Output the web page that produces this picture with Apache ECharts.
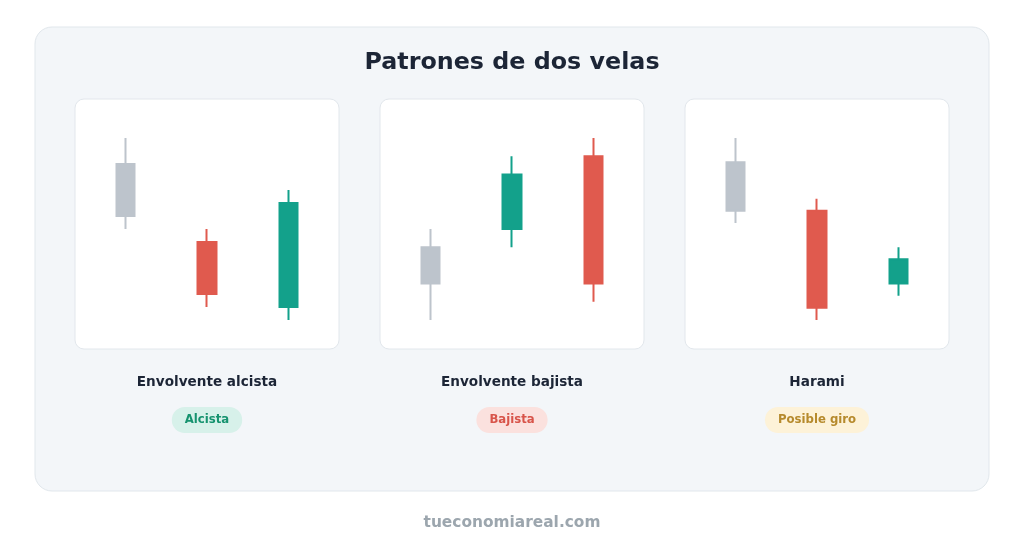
<!DOCTYPE html>
<html>
<head>
<meta charset="utf-8">
<script src="https://cdn.jsdelivr.net/npm/echarts@6/dist/echarts.min.js"></script>
<style>
  html, body { margin: 0; padding: 0; background: #ffffff; }
  #chart { width: 1024px; height: 553px; }
</style>
</head>
<body>
<div id="chart"></div>
<script>
// ---- Data ----
const chartTitle = 'Patrones de dos velas';
const footerText = 'tueconomiareal.com';
const categories = ['Vela 1', 'Vela 2', 'Vela 3'];
const patternNames = ['Envolvente alcista', 'Envolvente bajista', 'Harami'];
const pillLabels = ['Alcista', 'Bajista', 'Posible giro'];
// candle values: [open, close, low, high]
const alcistaCandles = [[12, 8, 7, 14], [6, 2, 1, 7], [1, 9, 0, 10]];
const bajistaCandles = [[2, 4, 0, 5], [5, 8, 4, 9], [9, 2, 1, 10]];
const haramiCandles = [[13, 9, 8, 15], [9, 1, 0, 10], [3, 5, 2, 6]];
// which candle in each pattern is the neutral (gray) context candle
const contextIndex = 0;

// ---- Styles ----
const GREEN = '#13a18b', RED = '#e05a4e', GRAY = '#bdc4cc';
const pillStyles = [
  { bg: '#d7f1ea', fg: '#16936f' },
  { bg: '#fbe1de', fg: '#d8544a' },
  { bg: '#fdf2d8', fg: '#b68a2c' }
];
const cardLeft = [75, 380, 685];
const cardWidth = 264, cardTop = 99, cardHeight = 250;
const allPatterns = [alcistaCandles, bajistaCandles, haramiCandles];

const grids = [], xAxes = [], yAxes = [], series = [], graphics = [];

graphics.push({
  type: 'rect', z: -10, silent: true,
  shape: { x: 35, y: 27, width: 954, height: 464, r: 17 },
  style: { fill: '#f3f6f9', stroke: '#e1e7ec', lineWidth: 1 }
});
graphics.push({
  type: 'text', z: 10,
  x: 512, y: 62.5,
  style: { text: chartTitle, fill: '#1c2536', font: 'bold 23.8px "DejaVu Sans"', align: 'center', verticalAlign: 'middle' }
});
graphics.push({
  type: 'text', z: 10,
  x: 512, y: 523,
  style: { text: footerText, fill: '#9ca6ae', font: 'bold 15.4px "DejaVu Sans"', align: 'center', verticalAlign: 'middle' }
});

allPatterns.forEach((candles, i) => {
  const cx = cardLeft[i] + cardWidth / 2;
  graphics.push({
    type: 'rect', z: -5, silent: true,
    shape: { x: cardLeft[i], y: cardTop, width: cardWidth, height: cardHeight, r: 9 },
    style: { fill: '#ffffff', stroke: '#e2e7ec', lineWidth: 1 }
  });
  graphics.push({
    type: 'text', z: 10, x: cx, y: 382.5,
    style: { text: patternNames[i], fill: '#1c2536', font: 'bold 13.6px "DejaVu Sans"', align: 'center', verticalAlign: 'middle' }
  });
  graphics.push({
    type: 'text', z: 10, x: cx, y: 420,
    style: {
      text: pillLabels[i], fill: pillStyles[i].fg, font: 'bold 11.7px "DejaVu Sans"',
      align: 'center', verticalAlign: 'middle', lineHeight: 14,
      backgroundColor: pillStyles[i].bg, padding: [6, 13], borderRadius: 13
    }
  });

  grids.push({ left: cardLeft[i] + 10, width: cardWidth - 20, top: 138, height: 182, show: false });
  xAxes.push({ type: 'category', gridIndex: i, data: categories, show: false, boundaryGap: true });
  yAxes.push({ type: 'value', gridIndex: i, show: false, min: 'dataMin', max: 'dataMax', scale: true, splitLine: { show: false } });
  series.push({
    type: 'candlestick',
    xAxisIndex: i, yAxisIndex: i,
    barWidth: 19,
    silent: true,
    itemStyle: { color: GREEN, color0: RED, borderColor: GREEN, borderColor0: RED, borderWidth: 2 },
    data: candles.map((v, k) => k === contextIndex
      ? { value: v, itemStyle: { color: GRAY, color0: GRAY, borderColor: GRAY, borderColor0: GRAY } }
      : v)
  });
});

const chart = echarts.init(document.getElementById('chart'), null, { renderer: 'canvas' });
chart.setOption({
  animation: false,
  backgroundColor: '#ffffff',
  grid: grids,
  xAxis: xAxes,
  yAxis: yAxes,
  series: series,
  graphic: { elements: graphics }
});
</script>
</body>
</html>
